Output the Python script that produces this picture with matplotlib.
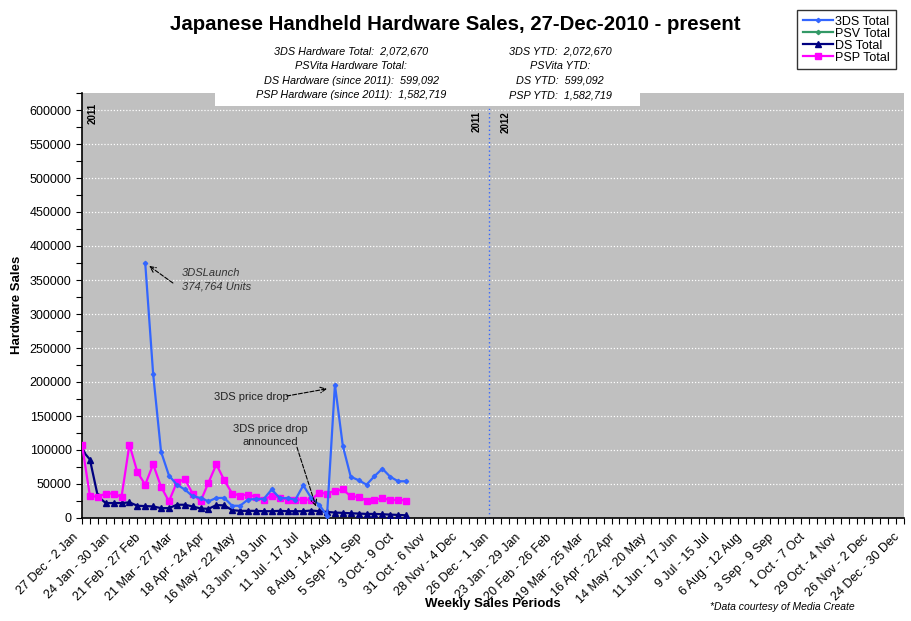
import numpy as np
import matplotlib
matplotlib.use("Agg")
import matplotlib.pyplot as plt
import matplotlib.transforms as mtransforms
from matplotlib.ticker import MultipleLocator, FixedLocator

plt.rcParams['font.family'] = ['Liberation Sans', 'DejaVu Sans']

# weekly periods, 27 Dec 2010 .. 24 Dec 2012 (labels every 4th week)
etiquetas = ["27 Dec - 2 Jan", "24 Jan - 30 Jan", "21 Feb - 27 Feb", "21 Mar - 27 Mar",
             "18 Apr - 24 Apr", "16 May - 22 May", "13 Jun - 19 Jun", "11 Jul - 17 Jul",
             "8 Aug - 14 Aug", "5 Sep - 11 Sep", "3 Oct - 9 Oct", "31 Oct - 6 Nov",
             "28 Nov - 4 Dec", "26 Dec - 1 Jan", "23 Jan - 29 Jan", "20 Feb - 26 Feb",
             "19 Mar - 25 Mar", "16 Apr - 22 Apr", "14 May - 20 May", "11 Jun - 17 Jun",
             "9 Jul - 15 Jul", "6 Aug - 12 Aug", "3 Sep - 9 Sep", "1 Oct - 7 Oct",
             "29 Oct - 4 Nov", "26 Nov - 2 Dec", "24 Dec - 30 Dec"]
n_semanas = 105

# vendas semanais (semana 0 = 27 Dec - 2 Jan 2010/11)
ds = [100000, 86000, 32000, 22000, 22000, 22000, 23000, 18000, 17500, 17000,
      14500, 14500, 19500, 19500, 17000, 14000, 13500, 19000, 18500, 11500,
      10500, 10500, 10500, 10000, 10000, 10500, 10000, 10000, 10000, 11000,
      10000, 9000, 8000, 7500, 7000, 6500, 6000, 6000, 5500, 5000, 4500, 4000]
psp = [108000, 32500, 31000, 36000, 36000, 31000, 108000, 67500, 49000, 79000,
       46000, 24500, 52500, 57000, 36000, 24500, 52000, 79000, 55500, 36000,
       33000, 34500, 31000, 27000, 33000, 30000, 27000, 27000, 27000, 27000,
       37000, 36000, 40000, 42000, 32000, 31000, 25500, 26000, 29500, 26000,
       27000, 25500]
sem_3ds = list(range(8, 42))
vendas_3ds = [374764, 212000, 97600, 62500, 49000, 42000, 32000, 29500, 24500, 29500,
              29500, 18000, 18000, 27000, 28000, 28000, 42000, 29500, 29000, 27000,
              48000, 29500, 19700, 3400, 196000, 106000, 60600, 55600, 49000, 61500,
              72500, 60600, 54000, 54000]
psv = []

fig = plt.figure(figsize=(9.11, 6.21), dpi=100)
ax = fig.add_axes([82/911, 1-518/621, (904-82)/911, (518-93)/621])
ax.set_facecolor('#c0c0c0')

ax.plot(sem_3ds, vendas_3ds, color='#3366ff', lw=1.6, marker='D', ms=2.2, label='3DS Total', zorder=4)
ax.plot(range(len(psv)), psv, color='#339966', lw=1.6, marker='D', ms=2.2, label='PSV Total')
ax.plot(range(len(ds)), ds, color='#000080', lw=1.6, marker='^', ms=4, label='DS Total', zorder=3)
ax.plot(range(len(psp)), psp, color='#ff00ff', lw=1.6, marker='s', ms=4, label='PSP Total', zorder=3)

ax.set_xlim(0, n_semanas - 1)
ax.set_ylim(0, 625000)
ax.yaxis.set_major_locator(FixedLocator(np.arange(0, 600001, 50000)))
ax.yaxis.set_minor_locator(MultipleLocator(25000))
ax.set_yticklabels([str(v) for v in range(0, 600001, 50000)])
for v in range(50000, 600001, 50000):
    ax.axhline(v, color='white', lw=0.9, ls=(0, (1, 1.5)), zorder=1)

ax.xaxis.set_major_locator(FixedLocator(range(0, n_semanas, 4)))
ax.xaxis.set_minor_locator(MultipleLocator(1))
ax.set_xticklabels(etiquetas, rotation=45, ha='right', va='center', rotation_mode='anchor', fontsize=9)
ax.tick_params(axis='x', which='both', direction='out', length=4, width=0.8, pad=0)
ax.tick_params(axis='y', which='both', direction='out', length=4, width=0.8, labelsize=9)
desloc = mtransforms.ScaledTranslation(-6/100, -12/100, fig.dpi_scale_trans)
for lbl in ax.get_xticklabels():
    lbl.set_transform(lbl.get_transform() + desloc)
for s in ['top', 'right']:
    ax.spines[s].set_visible(False)
ax.spines['left'].set_linewidth(1.2)
ax.spines['bottom'].set_linewidth(1.2)

fig.text(17/911, 1-305/621, 'Hardware Sales', fontsize=9.5, fontweight='bold', rotation=90,
         ha='center', va='center')
fig.text(493/911, 1-604/621, 'Weekly Sales Periods', fontsize=9.5, fontweight='bold',
         ha='center', va='center')

# separador de anos
ax.axvline(51.5, color='#3366ff', lw=1, ls=(0, (1, 2)), zorder=2)
ax.text(1.4, 611000, '2011', rotation=90, fontsize=7, fontweight='bold', ha='center', va='top')
ax.text(49.9, 598000, '2011', rotation=90, fontsize=7, fontweight='bold', ha='center', va='top')
ax.text(53.6, 598000, '2012', rotation=90, fontsize=7, fontweight='bold', ha='center', va='top')

# anotacoes
seta = dict(arrowstyle='->', ls='--', color='black', lw=0.8, shrinkA=0, shrinkB=0)
ax.text(12.6, 350000, '3DSLaunch\n374,764 Units', fontsize=8, style='italic', color='#333333',
        ha='left', va='center', linespacing=1.45)
ax.annotate('', xy=(8.5, 370600), xytext=(11.5, 345600), arrowprops=seta, zorder=6)
ax.text(21.4, 178500, '3DS price drop', fontsize=8, color='#222222', ha='center', va='center')
ax.annotate('', xy=(31.0, 190000), xytext=(25.9, 179400), arrowprops=seta, zorder=6)
ax.text(23.8, 121000, '3DS price drop\nannounced', fontsize=8, color='#222222',
        ha='center', va='center', linespacing=1.35)
ax.annotate('', xy=(29.6, 17000), xytext=(27.2, 104000), arrowprops=seta, zorder=6)

# titulo e caixa de totais
fig.text(0.5, 1-25/621, 'Japanese Handheld Hardware Sales, 27-Dec-2010 - present',
         fontsize=14.7, fontweight='bold', ha='center', va='center')
fig.patches.append(plt.Rectangle((215/911, 1-106/621), 425/911, 66/621, transform=fig.transFigure,
                                 facecolor='white', edgecolor='none', zorder=5))
esquerda = ['3DS Hardware Total:  2,072,670', 'PSVita Hardware Total:',
            'DS Hardware (since 2011):  599,092', 'PSP Hardware (since 2011):  1,582,719']
direita = ['3DS YTD:  2,072,670', 'PSVita YTD:', 'DS YTD:  599,092', 'PSP YTD:  1,582,719']
for k, (a, b) in enumerate(zip(esquerda, direita)):
    y = 1 - (51 + 14.8*k)/621
    fig.text(351/911, y, a, fontsize=7.8, style='italic', ha='center', va='center', zorder=6)
    fig.text(560/911, y, b, fontsize=7.8, style='italic', ha='center', va='center', zorder=6)

fig.text(782/911, 1-607/621, '*Data courtesy of Media Create', fontsize=7.5, style='italic',
         ha='center', va='center')

leg = fig.legend(loc='upper left', bbox_to_anchor=(797/911, 1-10/621), fontsize=9,
                 frameon=True, fancybox=False, edgecolor='black', borderpad=0.45,
                 labelspacing=0.0, handlelength=2.4, handletextpad=0.2, borderaxespad=0)
leg.get_frame().set_linewidth(1.0)

plt.savefig('out.png', dpi=100)
